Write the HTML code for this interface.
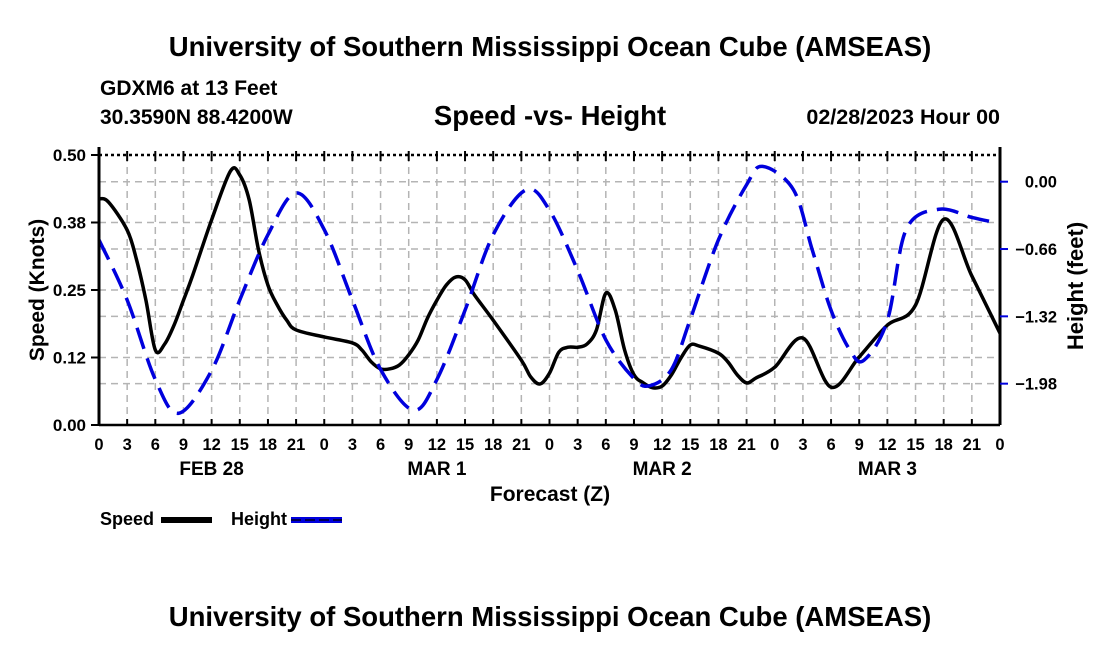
<!DOCTYPE html>
<html><head><meta charset="utf-8"><style>
body{margin:0;background:#fff}
svg{display:block;font-family:"Liberation Sans",sans-serif;font-weight:bold}
</style></head><body>
<svg id="c" width="1100" height="650" viewBox="0 0 1100 650">
<text x="550" y="56" text-anchor="middle" font-size="27.5">University of Southern Mississippi Ocean Cube (AMSEAS)</text>
<text x="100" y="95" font-size="21">GDXM6 at 13 Feet</text>
<text x="100" y="124" font-size="21">30.3590N  88.4200W</text>
<text x="550" y="125" text-anchor="middle" font-size="27.5">Speed -vs- Height</text>
<text x="1000" y="124" text-anchor="end" font-size="21.5">02/28/2023 Hour 00</text>
<text x="550" y="626" text-anchor="middle" font-size="27.5">University of Southern Mississippi Ocean Cube (AMSEAS)</text>
<g id="grid"></g><g id="series"></g><g id="axes"></g>
<text x="550" y="501" text-anchor="middle" font-size="21">Forecast (Z)</text>
<text transform="translate(44,290) rotate(-90)" text-anchor="middle" font-size="21">Speed (Knots)</text>
<text transform="translate(1083,286) rotate(-90)" text-anchor="middle" font-size="22">Height (feet)</text>
<g>
<text x="100" y="525" font-size="18">Speed</text>
<line x1="161" y1="520" x2="212" y2="520" stroke="#000" stroke-width="6"/>
<text x="231" y="525" font-size="18">Height</text>
<line x1="291" y1="520" x2="342" y2="520" stroke="#0000dd" stroke-width="6"/>
<line x1="291" y1="520" x2="342" y2="520" stroke="#000" stroke-width="1.2" stroke-dasharray="10 4"/>
</g>
</svg>
<script>
const speedHours=[0,1,3,4,5,6,7,8,9,10,12,14,15,16,17,18,19,20,21,24,27,28,29,30,31,32,33,34,35,36,37,38,39,40,42,45,46,47,48,49,50,51,52,53,54,55,56,57,58,59,60,61,62,63,64,66,67,68,69,70,72,75,78,81,84,87,90,93,96];
const speedValues=[0.419,0.413,0.361,0.306,0.231,0.139,0.15,0.185,0.231,0.278,0.38,0.47,0.463,0.417,0.324,0.259,0.222,0.194,0.176,0.163,0.152,0.139,0.117,0.104,0.104,0.111,0.13,0.157,0.198,0.231,0.259,0.274,0.269,0.241,0.194,0.12,0.089,0.076,0.096,0.135,0.144,0.144,0.15,0.176,0.244,0.213,0.139,0.093,0.078,0.069,0.072,0.093,0.124,0.148,0.146,0.133,0.117,0.093,0.078,0.087,0.107,0.161,0.07,0.126,0.185,0.222,0.381,0.276,0.17];
const heightHours=[0,3,6,8.5,12,15,18,21,24,27,30,33.5,36,39,42,45.5,48,51,54,57,58.7,61,63,66,69,70.7,74,76,78,80,81.5,84,86,89.5,93,96];
const heightValues=[-0.57,-1.16,-1.94,-2.27,-1.85,-1.16,-0.52,-0.11,-0.47,-1.16,-1.84,-2.24,-1.94,-1.26,-0.52,-0.08,-0.28,-0.87,-1.55,-1.93,-2.0,-1.84,-1.35,-0.57,-0.03,0.15,-0.08,-0.67,-1.26,-1.65,-1.75,-1.36,-0.47,-0.27,-0.35,-0.41];
const leftTicks=[0,0.125,0.25,0.375,0.5];
const leftTickLabels=["0.00","0.12","0.25","0.38","0.50"];
const rightTicks=[0,-0.66,-1.32,-1.98];
const rightTickLabels=["0.00","\u22120.66","\u22121.32","\u22121.98"];
const dateLabels=["FEB 28","MAR 1","MAR 2","MAR 3"];
const dateHours=[12,36,60,84];

const X0=99,X1=1000,Y0=425,Y1=155;
const xs=h=>X0+h*(X1-X0)/96;
const ys=v=>Y0-v*(Y0-Y1)/0.5;
const yh=f=>181.7-f*102;
const NS="http://www.w3.org/2000/svg";
function mk(tag,attrs,parent){const e=document.createElementNS(NS,tag);for(const k in attrs)e.setAttribute(k,attrs[k]);parent.appendChild(e);return e;}
const grid=document.getElementById('grid'),axes=document.getElementById('axes'),series=document.getElementById('series');
const gstyle={stroke:'#b4b4b4','stroke-width':1.5,'stroke-dasharray':'7 5'};
for(let h=3;h<96;h+=3){const l=mk('line',Object.assign({x1:xs(h),x2:xs(h),y1:Y1,y2:Y0},gstyle),grid);

}
leftTicks.slice(1,4).forEach(v=>{const l=mk('line',Object.assign({x1:X0,x2:X1,y1:ys(v),y2:ys(v)},gstyle),grid);

});
rightTicks.forEach(v=>{const l=mk('line',Object.assign({x1:X0,x2:X1,y1:yh(v),y2:yh(v)},gstyle),grid);

});
function path(hs,vs,fx,fy){const p=hs.map((h,i)=>[fx(h),fy(vs[i])]);let d=`M${p[0][0]},${p[0][1]}`;
for(let i=0;i<p.length-1;i++){const a=p[i-1]||p[i],b=p[i],c=p[i+1],e=p[i+2]||c;
d+=` C${b[0]+(c[0]-a[0])/6},${b[1]+(c[1]-a[1])/6} ${c[0]-(e[0]-b[0])/6},${c[1]-(e[1]-b[1])/6} ${c[0]},${c[1]}`;}return d;}
const sp=mk('path',{d:path(speedHours,speedValues,xs,ys),fill:'none',stroke:'#000','stroke-width':3.5,'stroke-linejoin':'round'},series);


const hp=mk('path',{d:path(heightHours,heightValues,xs,yh),fill:'none',stroke:'#0000dd','stroke-width':3.5,'stroke-dasharray':'22 10'},series);


const bl=mk('line',{x1:X0,x2:X1,y1:Y0,y2:Y0,stroke:'#000','stroke-width':2.5},axes);


const tl=mk('line',{x1:X0,x2:X1,y1:Y1,y2:Y1,stroke:'#000','stroke-width':2.5,'stroke-dasharray':'3 3'},axes);


const ll=mk('line',{x1:X0,x2:X0,y1:Y1-8,y2:Y0,stroke:'#000','stroke-width':3},axes);


const rl=mk('line',{x1:X1,x2:X1,y1:Y1-8,y2:Y0,stroke:'#000','stroke-width':3},axes);


for(let h=0;h<=96;h+=3){
const t=mk('line',{x1:xs(h),x2:xs(h),y1:Y0,y2:Y0-6,stroke:'#000','stroke-width':2},axes);


const t2=mk('line',{x1:xs(h),x2:xs(h),y1:Y1-4,y2:Y1+6,stroke:'#000','stroke-width':2},axes);


const lb=mk('text',{x:xs(h),y:450,'text-anchor':'middle','font-size':16.5},axes);lb.textContent=String(h%24);

}
dateLabels.forEach((s,i)=>{const t=mk('text',{x:xs(dateHours[i]),y:475,'text-anchor':'middle','font-size':19},axes);t.textContent=s;

});
leftTicks.forEach((v,i)=>{const t=mk('line',{x1:X0-8,x2:X0,y1:ys(v),y2:ys(v),stroke:'#000','stroke-width':2},axes);


const lb=mk('text',{x:86,y:ys(v)+6,'text-anchor':'end','font-size':17},axes);lb.textContent=leftTickLabels[i];

});
rightTicks.forEach((v,i)=>{const t=mk('line',{x1:X1,x2:X1+8,y1:yh(v),y2:yh(v),stroke:'#0000dd','stroke-width':2},axes);


const lb=mk('text',{x:1057,y:yh(v)+6,'text-anchor':'end','font-size':16.5},axes);lb.textContent=rightTickLabels[i];

});
</script>
</body></html>
